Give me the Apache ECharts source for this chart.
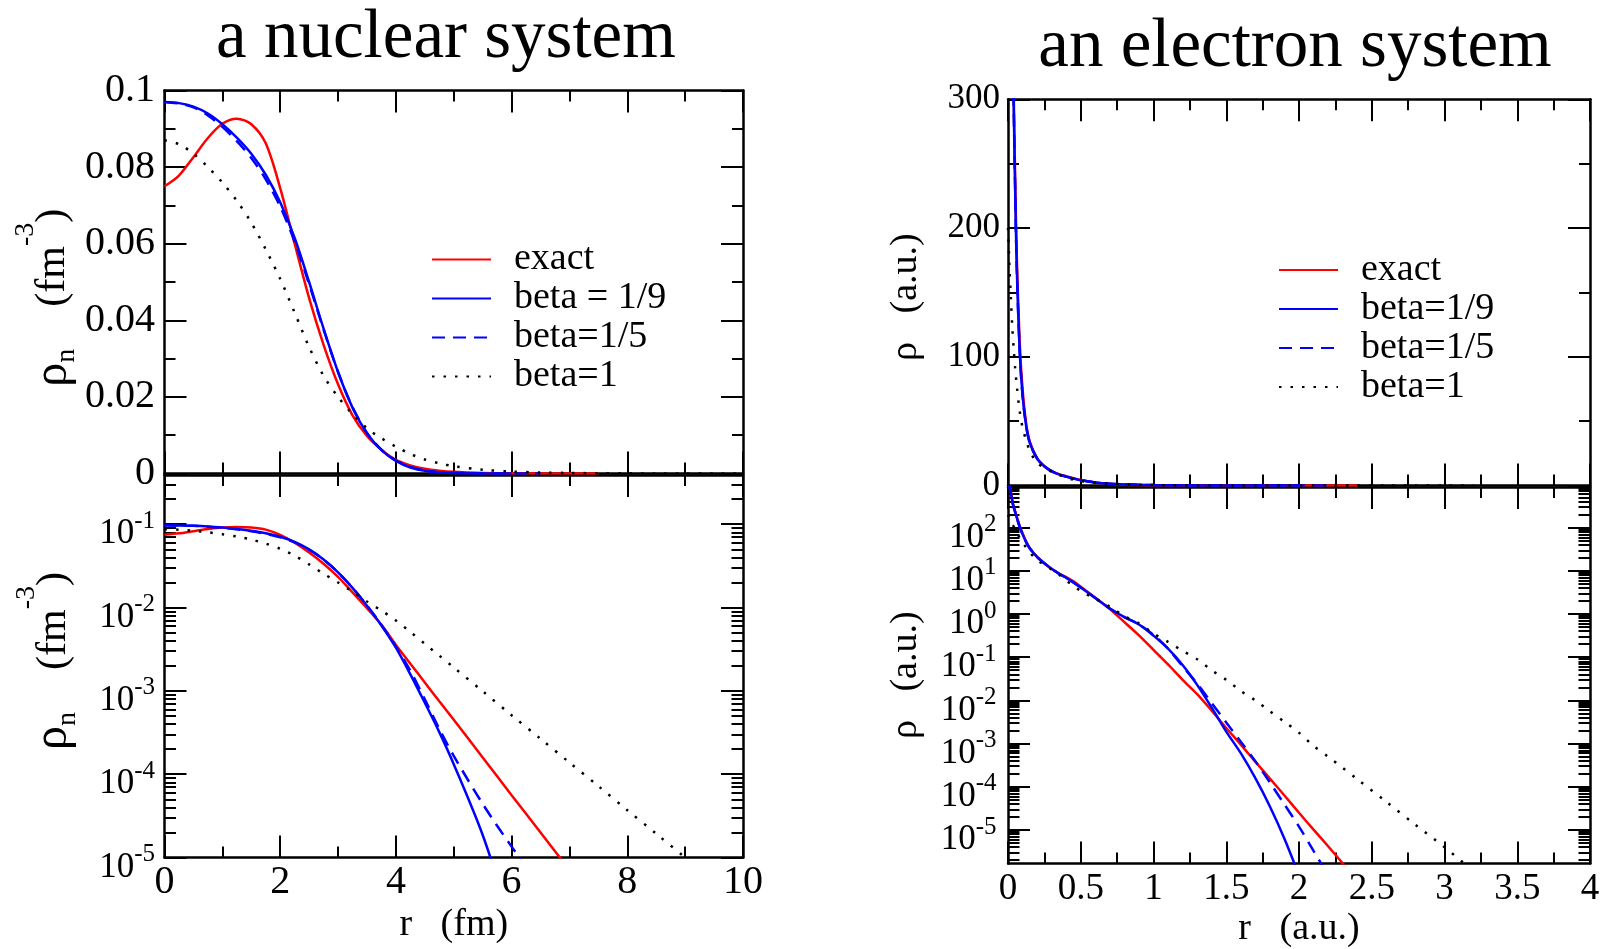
<!DOCTYPE html>
<html><head><meta charset="utf-8">
<script src="https://cdn.jsdelivr.net/npm/echarts@6.0.0/dist/echarts.min.js"></script>
<style>html,body{margin:0;padding:0;background:#fff}#c{width:1603px;height:949px}</style>
</head><body><div id="c"></div>
<script>
// ---------- nuclear system (r in fm, rho in fm^-3) ----------
const rNuc = [0,0.25,0.5,0.75,1,1.25,1.5,1.75,2,2.25,2.5,2.75,3,3.25,3.5,3.75,4,4.25,4.5,4.75,5,5.5,6,6.5,7,7.5,8,8.5,9,9.5,10];
const exactNuc = [0.0750,0.0778,0.0826,0.0876,0.0913,0.0926,0.0912,0.0862,0.0745,0.0600,0.0458,0.0336,0.0233,0.0152,0.0098,0.0062,0.00356,0.00212,0.00126,7.5e-4,4.5e-4,1.59e-4,5.6e-5,2.0e-5,7.1e-6,2.5e-6];
const beta19Nuc = [0.0970,0.0967,0.0958,0.0940,0.0912,0.0877,0.0835,0.0780,0.0708,0.0615,0.0500,0.0378,0.0265,0.0172,0.0105,0.0061,0.0033,0.00158,7.2e-4,3.2e-4,1.32e-4,1.86e-5,1.6e-6];
const beta15Nuc = [0.0970,0.0966,0.0956,0.0935,0.0905,0.0868,0.0824,0.0768,0.0697,0.0605,0.0494,0.0376,0.0265,0.0173,0.0106,0.0062,0.0034,0.00174,7.9e-4,3.5e-4,1.66e-4,4.4e-5,1.35e-5,4.5e-6];
const beta1Nuc = [0.0870,0.0860,0.0835,0.0800,0.0760,0.0712,0.0655,0.0585,0.0508,0.0420,0.0330,0.0255,0.0200,0.0155,0.0118,0.0092,0.0070,0.0051,0.00367,0.00265,0.00191,9.9e-4,5.1e-4,2.66e-4,1.38e-4,7.2e-5,3.7e-5,1.93e-5,1.0e-5,5.2e-6,2.7e-6];

// ---------- electron system (r in a.u., rho in a.u.) ----------
const rEl = [0,0.01,0.02,0.03,0.04,0.05,0.06,0.08,0.1,0.125,0.15,0.2,0.25,0.3,0.35,0.4,0.45,0.5,0.6,0.7,0.8,0.9,1.0,1.1,1.2,1.3,1.4,1.5,1.6,1.7,1.8,1.9,2.0,2.1,2.2,2.3,2.4,2.6,2.8,3.0,3.2];
const exactEl = [1400,950,680,420,300,235,180,112,75,48,34,21,15,11,8.8,7.2,5.7,4.3,2.4,1.3,0.65,0.32,0.148,0.068,0.030,0.0140,5.8e-3,2.3e-3,9.5e-4,3.8e-4,1.55e-4,6.3e-5,2.5e-5,1.02e-5,4.2e-6,1.7e-6,6.8e-7];
const beta19El = [1300,900,640,400,290,225,170,105,70,46,33,21,15,11.2,8.6,6.9,5.4,4.1,2.35,1.35,0.85,0.575,0.316,0.158,0.066,0.0229,6.8e-3,1.9e-3,6.0e-4,1.58e-4,3.5e-5,6.3e-6,8.9e-7];
const beta15El = [1300,900,640,400,290,225,170,105,70,46,33,21,15,11.2,8.6,6.9,5.4,4.1,2.35,1.35,0.85,0.575,0.33,0.158,0.062,0.0245,8.7e-3,3.1e-3,1.1e-3,3.9e-4,1.26e-4,3.9e-5,1.2e-5,3.3e-6,8.9e-7];
const beta1El = [200,170,145,122,105,90,78,58,45,35,27,17.5,14,10.7,8.2,6.0,4.5,3.4,2.26,1.48,0.89,0.61,0.355,0.226,0.141,0.090,0.050,0.030,0.0166,0.010,0.0056,0.0032,0.00178,8.9e-4,5.0e-4,2.75e-4,1.51e-4,4.5e-5,1.32e-5,4.0e-6,1.1e-6];

// ---------- tick values ----------
const nucLogMajor = [1e-5,1e-4,1e-3,1e-2,1e-1];
const elLogMajor = [1e-5,1e-4,1e-3,1e-2,1e-1,1,10,100];
const mantissas = [2,3,4,5,6,7,8,9];
const nucLogMin = 1e-5, nucLogMax = 0.39;
const elLogMin = 1.675e-6, elLogMax = 875;
function minorList(kFrom, kTo, lo, hi) {
  const out = [];
  for (let k = kFrom; k <= kTo; k++) for (const m of mantissas) {
    const v = m * Math.pow(10, k);
    if (v > lo && v < hi) out.push(v);
  }
  return out;
}
const nucLogMinor = minorList(-5, -1, nucLogMin, nucLogMax);
const elLogMinor = minorList(-6, 2, elLogMin, elLogMax);

const FONT = 'Liberation Serif';
const RED = '#ff0000', BLUE = '#0000ff', BLACK = '#000000';
const tickLine = {color: '#000', width: 2};
const axLine = {show: true, onZero: false, lineStyle: {color: '#000', width: 2.5}};

function pairs(r, v) { return v.map((y, i) => [r[i], y]); }

function xAxis(grid, pos, min, max, interval, label, fontSize, margin, name, nameGap) {
  return {
    type: 'value', gridIndex: grid, position: pos, min, max, interval,
    axisLine: axLine,
    axisTick: {show: true, inside: true, length: 22, lineStyle: tickLine},
    minorTick: {show: true, splitNumber: 2, length: 11, lineStyle: tickLine},
    axisLabel: {show: label, margin, fontFamily: FONT, fontSize, color: '#000'},
    splitLine: {show: false}, minorSplitLine: {show: false},
    name: name || '', nameLocation: 'middle', nameGap: nameGap || 0,
    nameTextStyle: {fontFamily: FONT, fontSize: 38, color: '#000'}
  };
}
function yLin(grid, pos, min, max, interval, label, fontSize, margin, name, nameGap, nameStyle) {
  return {
    type: 'value', gridIndex: grid, position: pos, min, max, interval,
    axisLine: axLine,
    axisTick: {show: true, inside: true, length: 22, lineStyle: tickLine},
    minorTick: {show: true, splitNumber: 2, length: 11, lineStyle: tickLine},
    axisLabel: {show: label, margin, fontFamily: FONT, fontSize, color: '#000'},
    splitLine: {show: false}, minorSplitLine: {show: false},
    name: name || '', nameLocation: 'middle', nameGap: nameGap || 0, nameRotate: 90,
    nameTextStyle: nameStyle
  };
}
const logRich = {
  b: {fontFamily: FONT, fontSize: 35, lineHeight: 36, verticalAlign: 'bottom', color: '#000'},
  s: {fontFamily: FONT, fontSize: 25, padding: [12, 0, 18, 0], verticalAlign: 'top', color: '#000'}
};
function yLog(grid, pos, min, max, major, label, margin, name, nameGap, nameStyle) {
  return {
    type: 'log', logBase: 10, gridIndex: grid, position: pos, min, max,
    axisLine: axLine,
    axisTick: {show: true, inside: true, length: 22, lineStyle: tickLine, customValues: major},
    minorTick: {show: false},
    axisLabel: {show: label, margin, customValues: major, color: '#000', fontFamily: FONT, fontSize: 35,
      formatter: v => '{b|10}{s|' + Math.round(Math.log10(v)) + '}', rich: logRich},
    splitLine: {show: false},
    name: name || '', nameLocation: 'middle', nameGap: nameGap || 0, nameRotate: 90,
    nameTextStyle: nameStyle
  };
}
function yLogMinor(grid, pos, min, max, minor) {
  return {
    type: 'log', logBase: 10, gridIndex: grid, position: pos, min, max,
    axisLine: {show: false, onZero: false},
    axisTick: {show: true, inside: true, length: 11.5, lineStyle: tickLine, customValues: minor},
    minorTick: {show: false}, axisLabel: {show: false}, splitLine: {show: false}
  };
}
const nucNameStyle = {
  fontFamily: FONT, color: '#000',
  rich: {
    g: {fontFamily: FONT, fontSize: 48, padding: [17, 0, 0, 0], verticalAlign: 'top', color: '#000'},
    t: {fontFamily: FONT, fontSize: 42, padding: [20, 0, 0, 0], verticalAlign: 'top', color: '#000'},
    sb: {fontFamily: FONT, fontSize: 28, padding: [41, 0, 0, 0], verticalAlign: 'top', color: '#000'},
    sp: {fontFamily: FONT, fontSize: 28, verticalAlign: 'top', color: '#000'}
  }
};
const elNameStyle = {fontFamily: FONT, fontSize: 38, color: '#000'};

const xAxes = [
  xAxis(0, 'bottom', 0, 10, 2, false, 40, 5),
  xAxis(0, 'top', 0, 10, 2, false, 40, 5),
  xAxis(1, 'bottom', 0, 10, 2, true, 40, 5, 'r   (fm)', 49),
  xAxis(1, 'top', 0, 10, 2, false, 40, 5),
  xAxis(2, 'bottom', 0, 4, 0.5, false, 37, 7),
  xAxis(2, 'top', 0, 4, 0.5, false, 37, 7),
  xAxis(3, 'bottom', 0, 4, 0.5, true, 37, 7, 'r   (a.u.)', 47),
  xAxis(3, 'top', 0, 4, 0.5, false, 37, 7)
];
const yAxes = [
  yLin(0, 'left', 0, 0.1, 0.02, true, 40, 9.5, '{g|ρ}{sb|n}{t|    (fm}{sp|-3}{t|)   }', 83, nucNameStyle),
  yLin(0, 'right', 0, 0.1, 0.02, false, 40, 9.5),
  yLog(1, 'left', nucLogMin, nucLogMax, nucLogMajor, true, 9.5, '{t| }{g|ρ}{sb|n}{t|    (fm}{sp|-3}{t|)}', 83, nucNameStyle),
  yLog(1, 'right', nucLogMin, nucLogMax, nucLogMajor, false, 9.5),
  yLogMinor(1, 'left', nucLogMin, nucLogMax, nucLogMinor),
  yLogMinor(1, 'right', nucLogMin, nucLogMax, nucLogMinor),
  yLin(2, 'left', 0, 300, 100, true, 35, 8, 'ρ   (a.u.) ', 83, elNameStyle),
  yLin(2, 'right', 0, 300, 100, false, 35, 8),
  yLog(3, 'left', elLogMin, elLogMax, elLogMajor, true, 11.5, 'ρ   (a.u.)', 83, elNameStyle),
  yLog(3, 'right', elLogMin, elLogMax, elLogMajor, false, 11.5),
  yLogMinor(3, 'left', elLogMin, elLogMax, elLogMinor),
  yLogMinor(3, 'right', elLogMin, elLogMax, elLogMinor)
];

function line(name, r, vals, xi, yi, color, dash) {
  return {
    type: 'line', name, xAxisIndex: xi, yAxisIndex: yi, data: pairs(r, vals),
    symbol: 'none', showSymbol: false, smooth: 0.3, clip: true, silent: true,
    lineStyle: {color, width: 2.5, type: dash || 'solid', cap: 'butt'},
    itemStyle: {color}
  };
}
const DASH = [13, 8], DOT = [2.5, 9];
const series = [];
[[0, 0], [2, 2]].forEach(([xi, yi]) => {
  series.push(line('exact', rNuc, exactNuc, xi, yi, RED));
  series.push(line('beta = 1/9', rNuc, beta19Nuc, xi, yi, BLUE));
  series.push(line('beta=1/5', rNuc, beta15Nuc, xi, yi, BLUE, DASH));
  series.push(line('beta=1', rNuc, beta1Nuc, xi, yi, BLACK, DOT));
});
[[4, 6], [6, 8]].forEach(([xi, yi]) => {
  series.push(line('exact', rEl, exactEl, xi, yi, RED));
  series.push(line('beta=1/9', rEl, beta19El, xi, yi, BLUE));
  series.push(line('beta=1/5', rEl, beta15El, xi, yi, BLUE, DASH));
  series.push(line('beta=1', rEl, beta1El, xi, yi, BLACK, DOT));
});

const legendText = {fontFamily: FONT, fontSize: 38, color: '#000', padding: [0, 0, 0, 18]};
const legendCommon = {orient: 'vertical', itemWidth: 59, itemHeight: 30, itemGap: 1, padding: 0,
  textStyle: legendText, selectedMode: false, itemStyle: {opacity: 0, borderWidth: 0}};
const option = {
  animation: false,
  backgroundColor: '#fff',
  title: [
    {text: 'a nuclear system', left: 446, top: 4, textAlign: 'center', padding: 0,
     textStyle: {fontFamily: FONT, fontSize: 69, fontWeight: 'normal', color: '#000'}},
    {text: 'an electron system', left: 1295, top: 13, textAlign: 'center', padding: 0,
     textStyle: {fontFamily: FONT, fontSize: 69, fontWeight: 'normal', color: '#000'}}
  ],
  legend: [
    Object.assign({data: ['exact', 'beta = 1/9', 'beta=1/5', 'beta=1'], left: 431, top: 240.5}, legendCommon),
    Object.assign({data: ['exact', 'beta=1/9', 'beta=1/5', 'beta=1'], left: 1278, top: 251}, legendCommon)
  ],
  grid: [
    {left: 164.5, top: 90.5, width: 578.5, height: 383, outerBoundsMode: 'none'},
    {left: 164.5, top: 475, width: 578.5, height: 382.5, outerBoundsMode: 'none'},
    {left: 1008, top: 99.3, width: 582, height: 386.2, outerBoundsMode: 'none'},
    {left: 1008, top: 487, width: 582, height: 376.5, outerBoundsMode: 'none'}
  ],
  xAxis: xAxes,
  yAxis: yAxes,
  series
};
const chart = echarts.init(document.getElementById('c'), null, {renderer: 'canvas'});
chart.setOption(option);
</script>
</body></html>
